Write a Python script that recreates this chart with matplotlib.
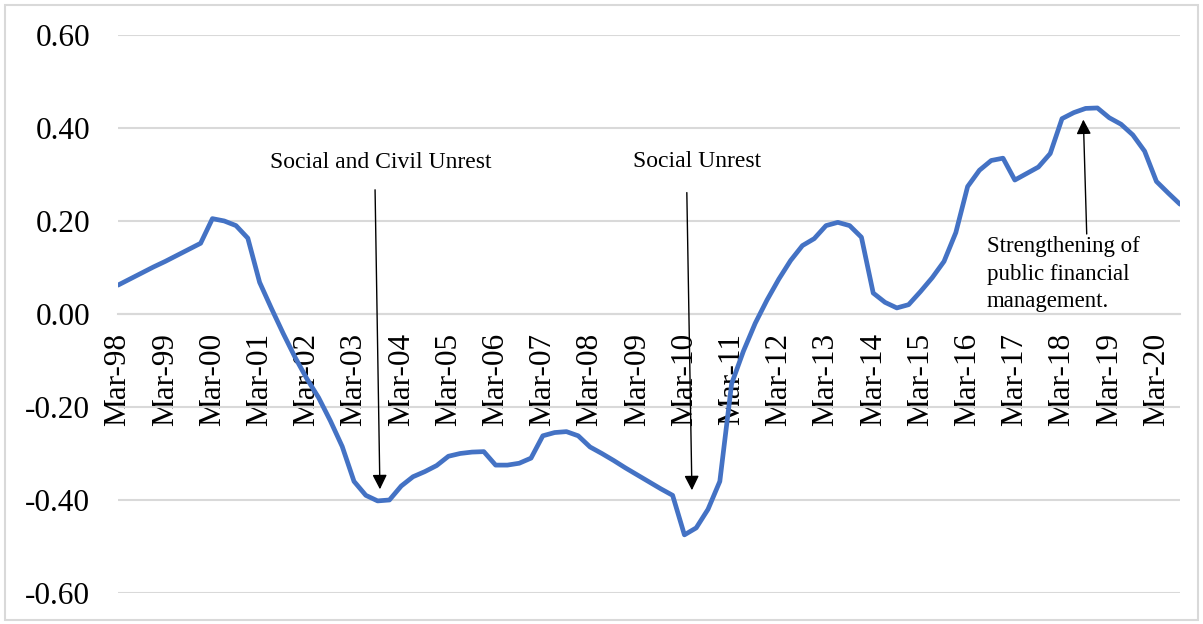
import matplotlib.pyplot as plt
from matplotlib.patches import Rectangle

# quarterly series, Mar-98 .. Sep-20
values = [
    0.062, 0.075, 0.088, 0.101, 0.113, 0.126, 0.139, 0.152,
    0.205, 0.200, 0.190, 0.163, 0.068, 0.012, -0.042, -0.093,
    -0.139, -0.180, -0.230, -0.285, -0.360, -0.390, -0.402, -0.400,
    -0.370, -0.350, -0.339, -0.326, -0.306, -0.300, -0.297, -0.296,
    -0.325, -0.325, -0.321, -0.310, -0.262, -0.255, -0.253, -0.262,
    -0.286, -0.300, -0.315, -0.331, -0.346, -0.361, -0.376, -0.390,
    -0.475, -0.460, -0.420, -0.360, -0.150, -0.080, -0.020, 0.030,
    0.075, 0.115, 0.147, 0.162, 0.190, 0.197, 0.190, 0.165,
    0.045, 0.025, 0.013, 0.020, 0.048, 0.078, 0.113, 0.175,
    0.274, 0.309, 0.330, 0.335, 0.288, 0.302, 0.316, 0.345,
    0.420, 0.433, 0.442, 0.443, 0.422, 0.408, 0.385, 0.350,
    0.285, 0.260, 0.236,
]
year_labels = ['Mar-%02d' % (y % 100) for y in range(1998, 2021)]
y_ticks = [-0.6, -0.4, -0.2, 0.0, 0.2, 0.4, 0.6]

plt.rcParams['font.family'] = ['Liberation Serif', 'DejaVu Serif']

fig = plt.figure(figsize=(12.03, 6.24), dpi=100)
ax = fig.add_axes([0.0981, 0.0497, 0.8828, 0.8943])

# spine position first, it resets the tick setup
for s in ['top', 'right', 'left']:
    ax.spines[s].set_visible(False)
ax.spines['bottom'].set_position(('data', 0))
ax.spines['bottom'].set_color('#D9D9D9')
ax.spines['bottom'].set_linewidth(1.5)
ax.spines['bottom'].set_zorder(0)

x = list(range(len(values)))
ax.plot(x, values, color='#4472C4', lw=3.4, solid_joinstyle='round', solid_capstyle='round', zorder=3)

ax.set_xlim(0, len(values) - 1)
ax.set_ylim(-0.6, 0.6)
ax.set_yticks(y_ticks)
ax.set_yticklabels(['%.2f' % v for v in y_ticks], fontsize=22.5)
ax.grid(axis='y', color='#D9D9D9', lw=1.5, zorder=0)
ax.set_xticks(range(0, len(values), 4))
ax.set_xticklabels(year_labels, rotation=90, fontsize=22.5, va='top', ha='center')
ax.tick_params(axis='x', length=0, pad=13.5)
ax.tick_params(axis='y', length=0, pad=20)

arrow = dict(arrowstyle='-|>', color='black', lw=1.0, mutation_scale=22)

ax.text(22.3, 0.325, 'Social and Civil Unrest', fontsize=17, ha='center', va='center')
ax.annotate('', xy=(22.2, -0.383), xytext=(21.78, 0.273), arrowprops=arrow, zorder=4)

ax.text(49.07, 0.327, 'Social Unrest', fontsize=17, ha='center', va='center')
ax.annotate('', xy=(48.64, -0.385), xytext=(48.2, 0.267), arrowprops=arrow, zorder=4)

# white text box that hides the grid behind the label
ax.add_patch(Rectangle((71.9, 0.012), 19, 0.21, facecolor='white', edgecolor='none',
                       zorder=1, clip_on=False))
ax.text(73.6, 0.167, 'Strengthening of\npublic financial\nmanagement.', fontsize=16.5,
        ha='left', va='top', linespacing=1.4, zorder=2)
ax.annotate('', xy=(81.8, 0.424), xytext=(82.1, 0.166), arrowprops=arrow, zorder=4)

fig.patches.append(Rectangle((5 / 1203, 4 / 624), 1193 / 1203, 615 / 624, transform=fig.transFigure,
                             fill=False, edgecolor='#D9D9D9', lw=1.5))

fig.savefig('out.png', dpi=100)
